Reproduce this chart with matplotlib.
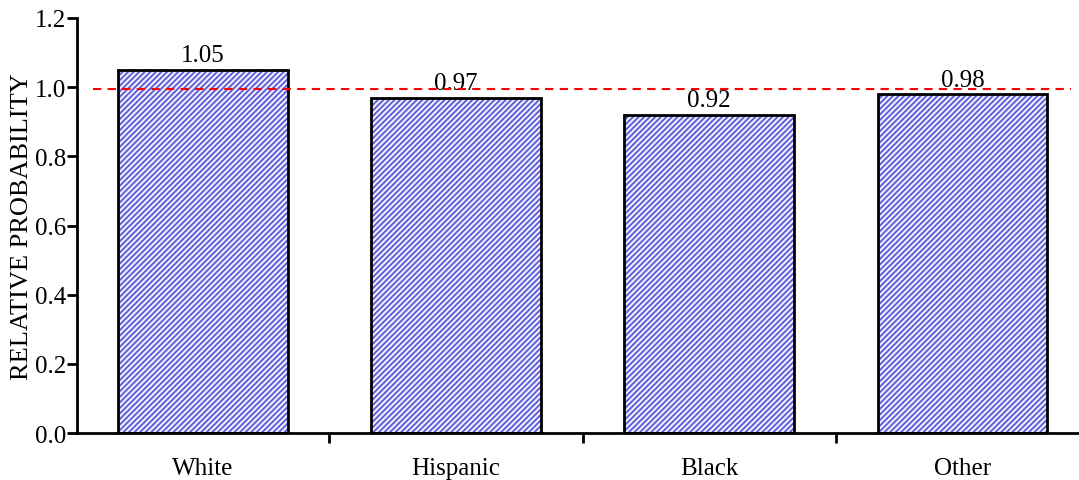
import matplotlib
matplotlib.use('Agg')
import matplotlib.pyplot as plt
import numpy as np

# Data
categories = ['White', 'Hispanic', 'Black', 'Other']
rel_prob = [1.05, 0.97, 0.92, 0.98]
value_labels = ['1.05', '0.97', '0.92', '0.98']
reference_level = 0.995

plt.rcParams['font.family'] = ['Liberation Serif', 'DejaVu Serif']
plt.rcParams['hatch.linewidth'] = 1.3

fig = plt.figure(figsize=(10.79, 4.81), dpi=100)
ax = fig.add_axes([0.0714, 0.0977, 0.9286, 0.8628])

x = np.arange(len(categories))
width = 0.67

# hatched fill, then a black outline on top
ax.bar(x, rel_prob, width=width, color='#eeeefc', edgecolor='#5a5ad8',
       linewidth=0, hatch='//////', zorder=2)
ax.bar(x, rel_prob, width=width, fill=False, edgecolor='black',
       linewidth=2, zorder=3)

for xi, v, lab in zip(x, rel_prob, value_labels):
    ax.text(xi, v + 0.01, lab, ha='center', va='bottom', fontsize=18, zorder=4)

ax.plot([-0.434, 3.43], [reference_level, reference_level], color='red',
        linestyle=(0, (4, 3)), linewidth=1.5, zorder=5)

ax.set_xlim(-0.497, 3.46)
ax.set_ylim(0, 1.2)
ax.set_yticks(np.arange(0, 1.21, 0.2))
ax.set_yticklabels([f'{t:.1f}' for t in np.arange(0, 1.21, 0.2)])
ax.set_xticks(x)
ax.set_xticklabels(categories)
ax.set_xticks(x[:-1] + 0.5, minor=True)
ax.tick_params(axis='x', which='major', length=0, pad=17, labelsize=18)
ax.tick_params(axis='x', which='minor', length=7, width=2, direction='out')
ax.tick_params(axis='y', length=7, width=2, direction='out', pad=1, labelsize=18)

ax.set_ylabel('RELATIVE PROBABILITY', fontsize=19, labelpad=1)

for side in ['top', 'right']:
    ax.spines[side].set_visible(False)
for side in ['left', 'bottom']:
    ax.spines[side].set_linewidth(2)

plt.savefig('out.png', dpi=100)
plt.close()
